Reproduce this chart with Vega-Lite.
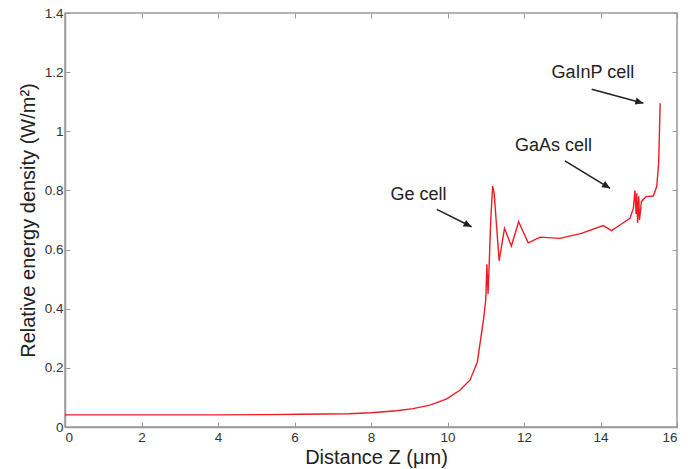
{
  "$schema": "https://vega.github.io/schema/vega-lite/v6.json",
  "width": 612,
  "height": 414,
  "autosize": {"type": "none"},
  "padding": {"left": 65, "top": 13, "right": 21, "bottom": 42},
  "background": "white",
  "config": {
    "view": {"stroke": "#9a9a9a", "strokeWidth": 1.5},
    "axis": {
      "domainColor": "#9a9a9a", "domainWidth": 1.5,
      "tickColor": "#9a9a9a", "tickSize": -5, "tickWidth": 1,
      "labelFont": "Liberation Sans", "labelFontSize": 13.5, "labelColor": "#333333",
      "titleFont": "Liberation Sans", "titleFontSize": 20, "titleFontWeight": "normal", "titleColor": "#222222",
      "grid": false
    }
  },
  "datasets": {
    "curve": [
      {"z": 0, "e": 0.041}, {"z": 2, "e": 0.041}, {"z": 4, "e": 0.041}, {"z": 5.3, "e": 0.042},
      {"z": 6.14, "e": 0.043}, {"z": 7.41, "e": 0.045}, {"z": 8.0, "e": 0.048}, {"z": 8.67, "e": 0.055},
      {"z": 9.1, "e": 0.062}, {"z": 9.54, "e": 0.074}, {"z": 9.98, "e": 0.095}, {"z": 10.33, "e": 0.125},
      {"z": 10.59, "e": 0.159}, {"z": 10.78, "e": 0.22}, {"z": 10.94, "e": 0.362}, {"z": 11.0, "e": 0.43},
      {"z": 11.03, "e": 0.55}, {"z": 11.06, "e": 0.45}, {"z": 11.09, "e": 0.55}, {"z": 11.13, "e": 0.70},
      {"z": 11.18, "e": 0.815}, {"z": 11.22, "e": 0.79}, {"z": 11.35, "e": 0.562}, {"z": 11.49, "e": 0.672},
      {"z": 11.67, "e": 0.612}, {"z": 11.86, "e": 0.694}, {"z": 12.11, "e": 0.623}, {"z": 12.42, "e": 0.642},
      {"z": 12.94, "e": 0.638}, {"z": 13.5, "e": 0.655}, {"z": 14.07, "e": 0.681}, {"z": 14.29, "e": 0.664},
      {"z": 14.51, "e": 0.683}, {"z": 14.77, "e": 0.706}, {"z": 14.86, "e": 0.74}, {"z": 14.9, "e": 0.80},
      {"z": 14.93, "e": 0.72}, {"z": 14.95, "e": 0.79}, {"z": 14.97, "e": 0.69}, {"z": 15.0, "e": 0.78},
      {"z": 15.02, "e": 0.70}, {"z": 15.07, "e": 0.762}, {"z": 15.19, "e": 0.779}, {"z": 15.38, "e": 0.781},
      {"z": 15.47, "e": 0.813}, {"z": 15.52, "e": 0.892}, {"z": 15.56, "e": 1.095}
    ],
    "notes": [
      {"label": "Ge cell", "lx": 9.24, "ly": 0.785, "x1": 9.72, "y1": 0.736, "x2": 10.63, "y2": 0.677},
      {"label": "GaAs cell", "lx": 12.77, "ly": 0.95, "x1": 13.07, "y1": 0.90, "x2": 14.25, "y2": 0.807},
      {"label": "GaInP cell", "lx": 13.8, "ly": 1.196, "x1": 13.77, "y1": 1.142, "x2": 15.12, "y2": 1.095}
    ]
  },
  "layer": [
    {
      "data": {"name": "curve"},
      "mark": {"type": "line", "color": "#ee1c25", "strokeWidth": 1.4},
      "encoding": {
        "x": {"field": "z", "type": "quantitative", "scale": {"domain": [0, 16], "nice": false},
          "axis": {"orient": "bottom", "values": [0, 2, 4, 6, 8, 10, 12, 14, 16], "format": "~f", "labelPadding": 8,
            "title": "Distance Z (μm)", "titleX": 311, "titleY": 20, "titleAlign": "center", "titleBaseline": "top"}},
        "y": {"field": "e", "type": "quantitative", "scale": {"domain": [0, 1.4], "nice": false},
          "axis": {"orient": "left", "values": [0, 0.2, 0.4, 0.6, 0.8, 1, 1.2, 1.4], "format": "~f", "labelPadding": 7,
            "title": "Relative energy density (W/m²)", "titleX": -27, "titleY": 207, "titleAngle": -90, "titleAlign": "center", "titleBaseline": "bottom"}}
      }
    },
    {
      "data": {"name": "notes"},
      "mark": {"type": "rule", "color": "#222222", "strokeWidth": 1.6},
      "encoding": {
        "x": {"field": "x1", "type": "quantitative", "axis": null},
        "y": {"field": "y1", "type": "quantitative", "axis": null},
        "x2": {"field": "x2"},
        "y2": {"field": "y2"}
      }
    },
    {
      "data": {"name": "notes"},
      "transform": [{"filter": "datum.label === 'Ge cell'"}],
      "mark": {"type": "point", "shape": "M0,0L-1,-0.45L-1,0.45Z", "filled": true, "color": "#222222", "opacity": 1, "size": 256, "angle": 26.4},
      "encoding": {
        "x": {"field": "x2", "type": "quantitative", "axis": null},
        "y": {"field": "y2", "type": "quantitative", "axis": null}
      }
    },
    {
      "data": {"name": "notes"},
      "transform": [{"filter": "datum.label === 'GaAs cell'"}],
      "mark": {"type": "point", "shape": "M0,0L-1,-0.45L-1,0.45Z", "filled": true, "color": "#222222", "opacity": 1, "size": 256, "angle": 31.5},
      "encoding": {
        "x": {"field": "x2", "type": "quantitative", "axis": null},
        "y": {"field": "y2", "type": "quantitative", "axis": null}
      }
    },
    {
      "data": {"name": "notes"},
      "transform": [{"filter": "datum.label === 'GaInP cell'"}],
      "mark": {"type": "point", "shape": "M0,0L-1,-0.45L-1,0.45Z", "filled": true, "color": "#222222", "opacity": 1, "size": 256, "angle": 15.2},
      "encoding": {
        "x": {"field": "x2", "type": "quantitative", "axis": null},
        "y": {"field": "y2", "type": "quantitative", "axis": null}
      }
    },
    {
      "data": {"name": "notes"},
      "mark": {"type": "text", "font": "Liberation Sans", "fontSize": 18, "color": "#222222", "align": "center", "baseline": "middle"},
      "encoding": {
        "x": {"field": "lx", "type": "quantitative", "axis": null},
        "y": {"field": "ly", "type": "quantitative", "axis": null},
        "text": {"field": "label"}
      }
    },
    {
      "data": {"name": "curve"},
      "mark": {"type": "line", "opacity": 0},
      "encoding": {
        "x": {"field": "z", "type": "quantitative",
          "axis": {"orient": "top", "values": [0, 2, 4, 6, 8, 10, 12, 14, 16], "labels": false, "domain": false, "title": null}},
        "y": {"field": "e", "type": "quantitative",
          "axis": {"orient": "right", "values": [0, 0.2, 0.4, 0.6, 0.8, 1, 1.2, 1.4], "labels": false, "domain": false, "title": null}}
      }
    }
  ]
}
